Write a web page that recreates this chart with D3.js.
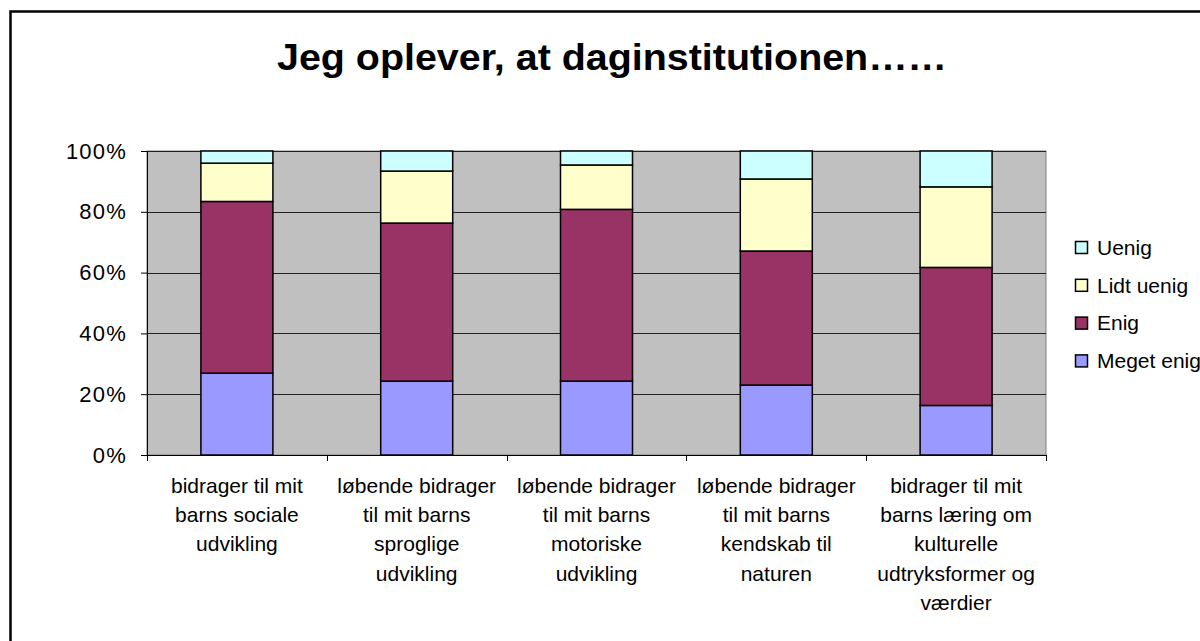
<!DOCTYPE html>
<html>
<head>
<meta charset="utf-8">
<script src="https://cdn.jsdelivr.net/npm/d3@7"></script>
<style>
  html, body { margin: 0; padding: 0; background: #fff; }
  svg { display: block; font-family: "Liberation Sans", Arial, sans-serif; }
</style>
</head>
<body>
<svg id="chart" width="1200" height="641"></svg>
<script>
const title = "Jeg oplever, at daginstitutionen……";
const categories = [
  ["bidrager til mit", "barns sociale", "udvikling"],
  ["løbende bidrager", "til mit barns", "sproglige", "udvikling"],
  ["løbende bidrager", "til mit barns", "motoriske", "udvikling"],
  ["løbende bidrager", "til mit barns", "kendskab til", "naturen"],
  ["bidrager til mit", "barns læring om", "kulturelle", "udtryksformer og", "værdier"]
];
const seriesNames = ["Meget enig", "Enig", "Lidt uenig", "Uenig"];
const seriesColors = ["#9999FF", "#993366", "#FFFFCC", "#CCFFFF"];
const megetEnig = [26.9, 24.3, 24.3, 23.0, 16.3];
const enig      = [56.5, 52.0, 56.5, 44.1, 45.4];
const lidtUenig = [12.6, 17.1, 14.6, 23.7, 26.5];
const uenig     = [4.0, 6.6, 4.6, 9.2, 11.8];
const yTicks = [0, 20, 40, 60, 80, 100];

const svg = d3.select("#chart");
const plot = { left: 147, right: 1046, top: 151, bottom: 455 };

// outer chart border
svg.append("rect").attr("x", 10.5).attr("y", 11.5).attr("width", 1400).attr("height", 900)
  .attr("fill", "none").attr("stroke", "#000").attr("stroke-width", 2.5);

// title
svg.append("text").attr("x", 612).attr("y", 70).attr("text-anchor", "middle")
  .attr("font-size", 36).attr("font-weight", "bold").attr("fill", "#000").text(title)
  .attr("textLength", 670).attr("lengthAdjust", "spacingAndGlyphs");

const x = d3.scaleBand().domain(d3.range(categories.length)).range([plot.left, plot.right]).paddingInner(0).paddingOuter(0);
const y = d3.scaleLinear().domain([0, 100]).range([plot.bottom, plot.top]);

// plot background
svg.append("rect").attr("x", plot.left).attr("y", plot.top)
  .attr("width", plot.right - plot.left).attr("height", plot.bottom - plot.top)
  .attr("fill", "#C0C0C0").attr("stroke", "#808080").attr("stroke-width", 1);

// gridlines
svg.append("g").selectAll("line").data(yTicks.filter(d => d > 0)).join("line")
  .attr("x1", plot.left).attr("x2", plot.right)
  .attr("y1", d => Math.round(y(d)) + 0.5).attr("y2", d => Math.round(y(d)) + 0.5)
  .attr("stroke", "#222").attr("stroke-width", 1);

// stacked data
const seriesArrays = [megetEnig, enig, lidtUenig, uenig];
const rows = categories.map((c, i) => {
  const r = { i };
  seriesNames.forEach((s, k) => r[s] = seriesArrays[k][i]);
  return r;
});
const stacked = d3.stack().keys(seriesNames)(rows);

const barW = 72;
svg.append("g").selectAll("g").data(stacked).join("g")
  .attr("fill", (d, k) => seriesColors[k])
  .selectAll("rect").data(d => d).join("rect")
  .attr("x", d => x(d.data.i) + x.bandwidth() / 2 - barW / 2)
  .attr("width", barW)
  .attr("y", d => y(d[1]))
  .attr("height", d => y(d[0]) - y(d[1]))
  .attr("stroke", "#000").attr("stroke-width", 1.5);

// y axis
const yAxis = d3.axisLeft(y).tickValues(yTicks).tickFormat(d => d + "%").tickSize(6).tickPadding(14);
const ya = svg.append("g").attr("transform", `translate(${plot.left},0)`).call(yAxis);
ya.select(".domain").attr("stroke", "#000");
ya.selectAll(".tick line").attr("stroke", "#000");
ya.selectAll("text").attr("font-size", 22).attr("letter-spacing", 1.2)
  .attr("font-family", "Liberation Sans, Arial, sans-serif").attr("fill", "#000");

// x axis line and ticks at category boundaries
svg.append("line").attr("x1", plot.left).attr("x2", plot.right)
  .attr("y1", plot.bottom + 0.5).attr("y2", plot.bottom + 0.5).attr("stroke", "#000");
const bounds = d3.range(categories.length + 1).map(i => i < categories.length ? x(i) : plot.right);
svg.append("g").selectAll("line").data(bounds).join("line")
  .attr("x1", d => Math.round(d) + 0.5).attr("x2", d => Math.round(d) + 0.5)
  .attr("y1", plot.bottom).attr("y2", plot.bottom + 6).attr("stroke", "#000");

// category labels
const lab = svg.append("g").selectAll("text").data(categories).join("text")
  .attr("text-anchor", "middle").attr("font-size", 21).attr("fill", "#000")
  .attr("transform", (d, i) => `translate(${x(i) + x.bandwidth() / 2},493)`);
lab.selectAll("tspan").data(d => d).join("tspan")
  .attr("x", 0).attr("y", (d, j) => j * 29.2).text(d => d);

// legend
const legendOrder = [3, 2, 1, 0];
const lg = svg.append("g").selectAll("g").data(legendOrder).join("g")
  .attr("transform", (k, j) => `translate(1075,${247.5 + j * 37.8})`);
lg.append("rect").attr("x", 0.5).attr("y", -6).attr("width", 12).attr("height", 12)
  .attr("fill", k => seriesColors[k]).attr("stroke", "#000").attr("stroke-width", 1.5);
lg.append("text").attr("x", 22).attr("y", 0).attr("dy", "0.35em")
  .attr("font-size", 21).attr("fill", "#000").text(k => seriesNames[k]);
</script>
</body>
</html>
